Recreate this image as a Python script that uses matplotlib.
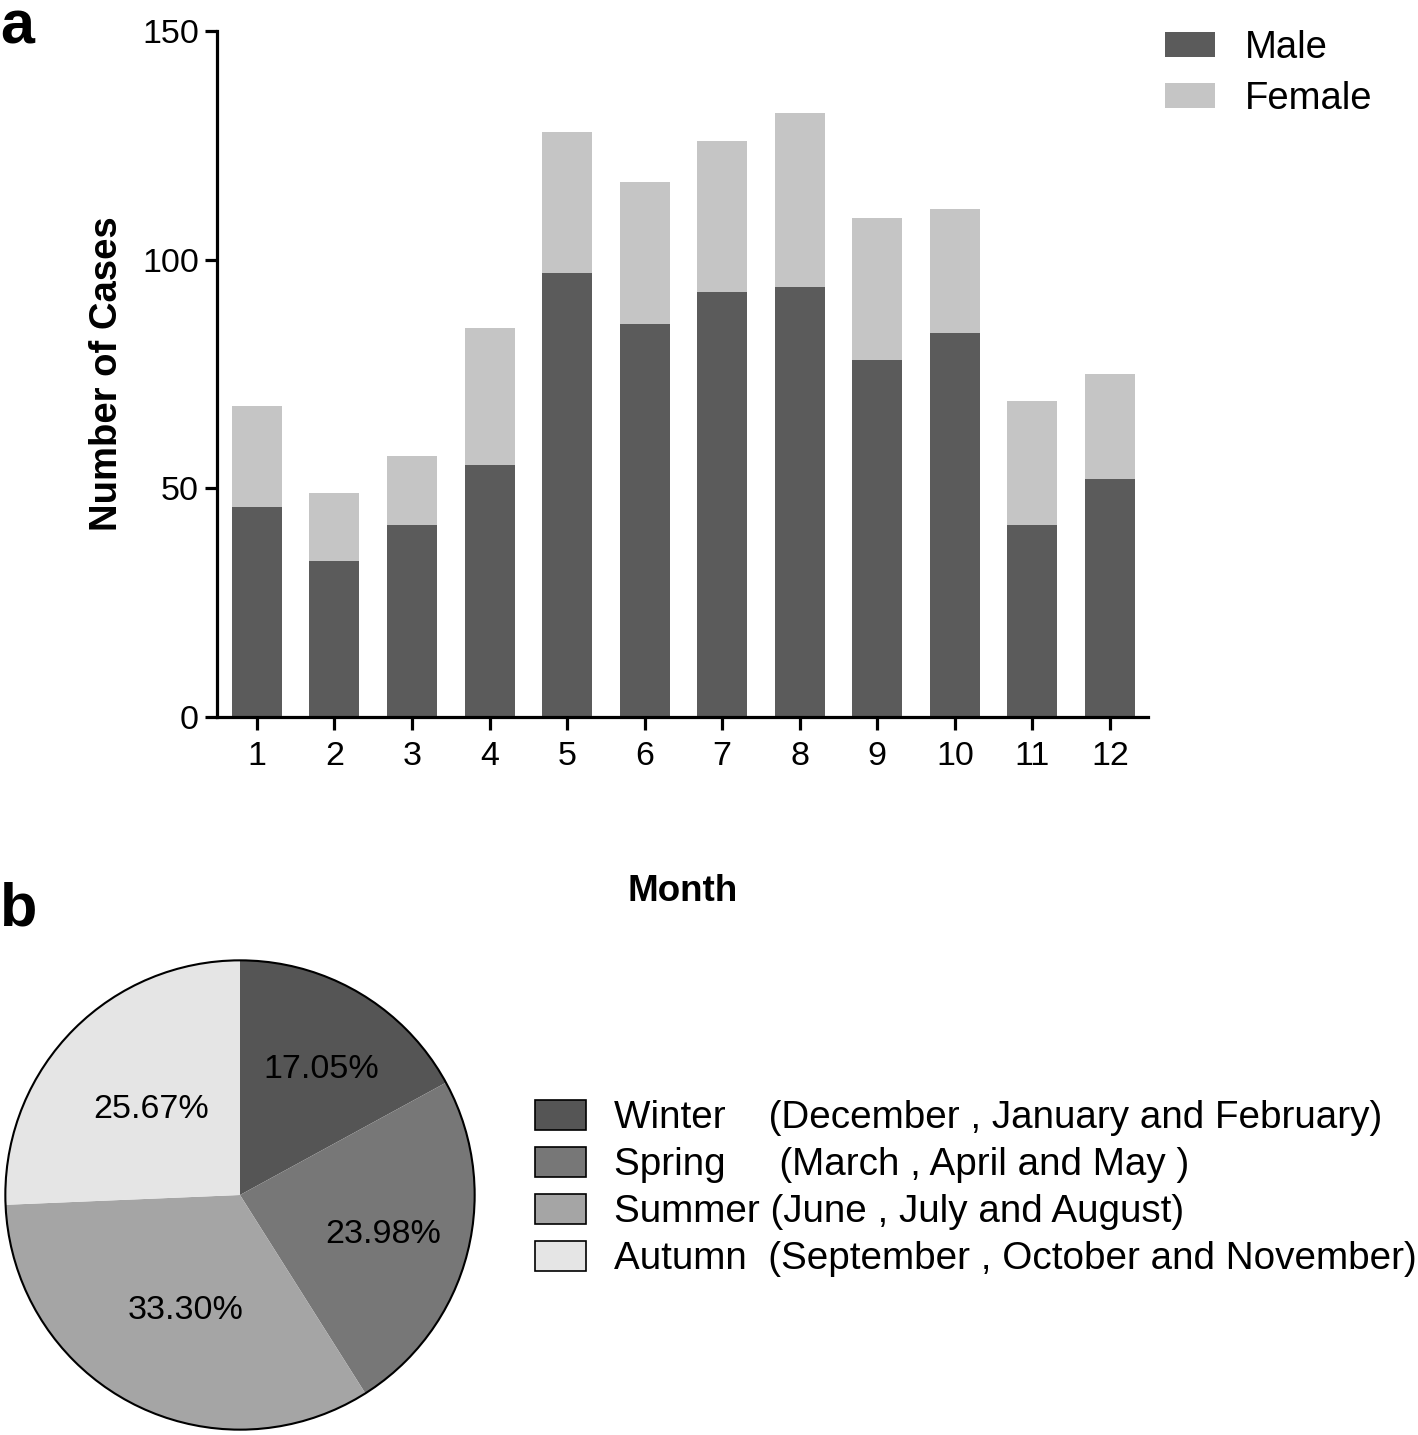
import numpy as np
import matplotlib.pyplot as plt
from matplotlib.patches import Circle

# Monthly cases
months = ['1', '2', '3', '4', '5', '6', '7', '8', '9', '10', '11', '12']
male = [46, 34, 42, 55, 97, 86, 93, 94, 78, 84, 42, 52]
female = [22, 15, 15, 30, 31, 31, 33, 38, 31, 27, 27, 23]

# Seasonal totals for panel b
seasons = ['Winter    (December , January and February)',
           'Spring     (March , April and May )',
           'Summer (June , July and August)',
           'Autumn  (September , October and November)']
season_cases = [192, 270, 375, 289]
season_colors = ['#555555', '#777777', '#a5a5a5', '#e5e5e5']
label_dist = [0.64, 0.61, 0.54, 0.55]

plt.rcParams['font.family'] = ['Liberation Sans', 'DejaVu Sans']

fig = plt.figure(figsize=(14.18, 14.35), dpi=100)

# panel a: stacked bars
ax = fig.add_axes([0.1530, 0.5004, 0.6566, 0.4780])
x = np.arange(1, len(months) + 1)
ax.bar(x, male, width=0.645, color='#5b5b5b', label='Male')
ax.bar(x, female, width=0.645, bottom=male, color='#c5c5c5', label='Female')
ax.set_xlim(0.485, 12.49)
ax.set_ylim(0, 150)
ax.set_yticks([0, 50, 100, 150])
ax.set_xticks(x)
ax.set_xticklabels(months)
for s in ['top', 'right']:
    ax.spines[s].set_visible(False)
for s in ['left', 'bottom']:
    ax.spines[s].set_linewidth(2.3)
ax.tick_params(axis='both', width=2.3, length=9, labelsize=24.5, direction='out')
ax.tick_params(axis='x', pad=8)
ax.tick_params(axis='y', pad=4)
ax.set_ylabel('Number of Cases', fontsize=27.5, fontweight='bold', labelpad=12)
ax.set_xlabel('Month', fontsize=26.5, fontweight='bold', labelpad=74)
ax.legend(loc='upper left', bbox_to_anchor=(1165 / 1418, 1 - 30 / 1435),
          bbox_transform=fig.transFigure, frameon=False, fontsize=27.5,
          handlelength=1.3, handleheight=0.63, handletextpad=0.8,
          labelspacing=0.38, borderpad=0, borderaxespad=0)

# panel b: pie
pax = fig.add_axes([3 / 1418, 3 / 1435, 474 / 1418, 474 / 1435])
wedges, texts, autotexts = pax.pie(season_cases, colors=season_colors, startangle=90,
                                   counterclock=False, autopct='%1.2f%%',
                                   pctdistance=0.6,
                                   wedgeprops=dict(linewidth=0),
                                   textprops=dict(fontsize=24.5, color='black'))
for w, t, d in zip(wedges, autotexts, label_dist):
    a = np.deg2rad((w.theta1 + w.theta2) / 2)
    t.set_position((d * np.cos(a) + 0.02, d * np.sin(a) - 0.015))
pax.add_patch(Circle((0, 0), 1, fill=False, edgecolor='black', linewidth=1.5))
pax.set_xlim(-1.01, 1.01)
pax.set_ylim(-1.01, 1.01)
pax.set_aspect('equal')

leg = fig.legend(wedges, seasons, loc='upper left',
                 bbox_to_anchor=(535 / 1418, 1 - 1100 / 1435), frameon=False,
                 fontsize=27.8, handlelength=1.33, handleheight=0.82,
                 handletextpad=0.72, labelspacing=0.27, borderpad=0, borderaxespad=0)
for h in leg.legend_handles:
    h.set_edgecolor('black')
    h.set_linewidth(1.2)

fig.text(0.0, 1.0, 'a', fontsize=44, fontweight='bold', va='top')
fig.text(0.0, 1 - 925 / 1435, 'b', fontsize=44, fontweight='bold')

fig.savefig('out.png', dpi=100)
